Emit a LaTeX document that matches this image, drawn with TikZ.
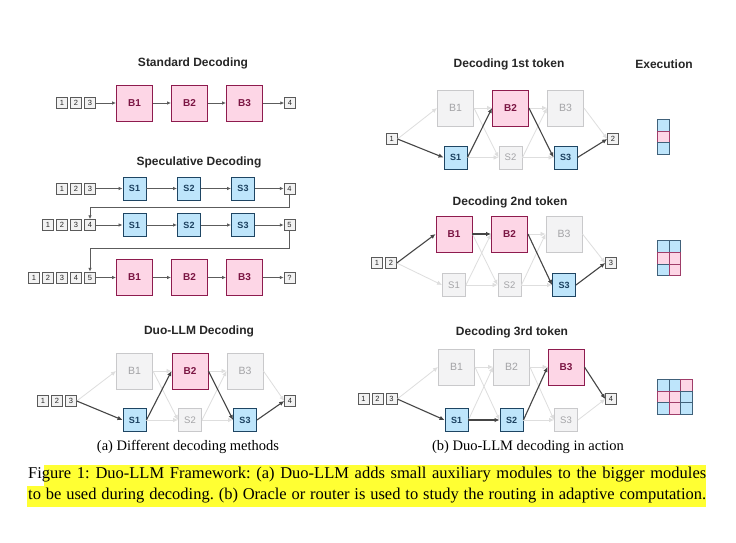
\documentclass[tikz,border=0pt]{standalone}
\usepackage{fontspec}
\setmainfont{Liberation Serif}
\newfontfamily\dsans{Liberation Sans}
\usetikzlibrary{arrows.meta,calc}
\definecolor{pinkF}{HTML}{FDD6E6}
\definecolor{pinkD}{HTML}{8E1B4E}
\definecolor{pinkT}{HTML}{7A1442}
\definecolor{blueF}{HTML}{BEE5FB}
\definecolor{blueD}{HTML}{1E4563}
\definecolor{blueT}{HTML}{1A3F5E}
\definecolor{greyF}{HTML}{F3F3F4}
\definecolor{greyD}{HTML}{C9C9CB}
\definecolor{greyT}{HTML}{A3A3A6}
\definecolor{tokF}{HTML}{F2F2F2}
\definecolor{tokD}{HTML}{5A5A5A}
\definecolor{darkA}{HTML}{454545}
\definecolor{lightA}{HTML}{DEDEDE}
\definecolor{midA}{HTML}{5C5C5C}
\definecolor{hlY}{HTML}{FFFF33}
\tikzset{
  bigbox/.style={draw=pinkD, fill=pinkF, line width=0.9pt, minimum width=36pt, minimum height=36pt, inner sep=0pt, text=pinkT, font=\dsans\bfseries\fontsize{10}{10}\selectfont},
  smallbox/.style={draw=blueD, fill=blueF, line width=0.9pt, minimum width=23pt, minimum height=23pt, inner sep=0pt, text=blueT, font=\dsans\bfseries\fontsize{9}{9}\selectfont},
  gbig/.style={bigbox, draw=greyD, fill=greyF, text=greyT, font=\dsans\fontsize{10.5}{10.5}\selectfont},
  gsmall/.style={smallbox, draw=greyD, fill=greyF, text=greyT, font=\dsans\fontsize{9.5}{9.5}\selectfont},
  tok/.style={draw=tokD, fill=tokF, line width=0.5pt, minimum width=11pt, minimum height=11pt, inner sep=0pt, text=black!85, font=\dsans\fontsize{7.5}{7.5}\selectfont},
  ttl/.style={font=\dsans\bfseries\fontsize{12}{12}\selectfont, text=black!85, inner sep=0pt},
  arr/.style={draw=midA, line width=0.8pt, -{Latex[length=4pt,width=3.5pt]}},
  dk/.style={draw=darkA, line width=1.1pt, -{Latex[length=5pt,width=4.5pt]}},
  lt/.style={draw=lightA, line width=0.8pt, -{Latex[length=5pt,width=4.5pt]}},
  cb/.style={fill=blueF, draw=blueD!85, line width=0.7pt},
  cp/.style={fill=pinkF, draw=pinkD!85, line width=0.7pt},
  subcap/.style={font=\fontsize{14.5}{16}\selectfont, inner sep=0pt},
  capline/.style={font=\frenchspacing\fontsize{16.5}{18}\selectfont, inner sep=0pt, anchor=west},
}
\newcommand\gcell[3]{\draw[#3] (#1,#2) rectangle ++(11.7,11.7);}
\begin{document}
\begin{tikzpicture}[x=1pt,y=-1pt]
\useasboundingbox (0,0) rectangle (736,543);
\fill[white] (0,0) rectangle (736,543);

% ---------- Standard decoding ----------
\node[ttl] (tstd) at (193,63) {Standard Decoding};
\node[tok] (st1) at (62,103) {1};
\node[tok] (st2) at (76,103) {2};
\node[tok] (st3) at (90,103) {3};
\node[bigbox] (stB1) at (134.5,103) {B1};
\node[bigbox] (stB2) at (189.5,103) {B2};
\node[bigbox] (stB3) at (244.5,103) {B3};
\node[tok] (sto) at (290,103) {4};
\draw[arr] (st3) -- (stB1);
\draw[arr] (stB1) -- (stB2);
\draw[arr] (stB2) -- (stB3);
\draw[arr] (stB3) -- (sto);

% ---------- Speculative decoding ----------
\node[ttl] (tspec) at (199,162) {Speculative Decoding};
\node[tok] (sa1) at (62,188.5) {1};
\node[tok] (sa2) at (76,188.5) {2};
\node[tok] (sa3) at (90,188.5) {3};
\node[smallbox] (saS1) at (134.5,188.5) {S1};
\node[smallbox] (saS2) at (189,188.5) {S2};
\node[smallbox] (saS3) at (243,188.5) {S3};
\node[tok] (sao) at (289.5,188.5) {4};
\draw[arr] (sa3) -- (saS1);
\draw[arr] (saS1) -- (saS2);
\draw[arr] (saS2) -- (saS3);
\draw[arr] (saS3) -- (sao);

\node[tok] (sb1) at (48,225) {1};
\node[tok] (sb2) at (62,225) {2};
\node[tok] (sb3) at (76,225) {3};
\node[tok] (sb4) at (90,225) {4};
\node[smallbox] (sbS1) at (134.5,225) {S1};
\node[smallbox] (sbS2) at (189,225) {S2};
\node[smallbox] (sbS3) at (243,225) {S3};
\node[tok] (sbo) at (289.5,225) {5};
\draw[arr] (sb4) -- (sbS1);
\draw[arr] (sbS1) -- (sbS2);
\draw[arr] (sbS2) -- (sbS3);
\draw[arr] (sbS3) -- (sbo);

\node[tok] (sc1) at (34,277.5) {1};
\node[tok] (sc2) at (48,277.5) {2};
\node[tok] (sc3) at (62,277.5) {3};
\node[tok] (sc4) at (76,277.5) {4};
\node[tok] (sc5) at (90,277.5) {5};
\node[bigbox] (scB1) at (134.5,277.5) {B1};
\node[bigbox] (scB2) at (189.5,277.5) {B2};
\node[bigbox] (scB3) at (244.5,277.5) {B3};
\node[tok] (sco) at (289.5,277.5) {?};
\draw[arr] (sc5) -- (scB1);
\draw[arr] (scB1) -- (scB2);
\draw[arr] (scB2) -- (scB3);
\draw[arr] (scB3) -- (sco);

\coordinate (e1) at (0,207);
\coordinate (e2) at (0,248.5);
\draw[arr] (sao.south) -- (sao.south |- e1) -| (sb4.north);
\draw[arr] (sbo.south) -- (sbo.south |- e2) -| (sc5.north);

% ---------- Duo-LLM decoding ----------
\node[ttl] (tduo) at (199,331) {Duo-LLM Decoding};
\node[tok] (d1) at (43,401) {1};
\node[tok] (d2) at (57,401) {2};
\node[tok] (d3) at (71,401) {3};
\node[gbig] (dB1) at (134.5,371) {B1};
\node[bigbox] (dB2) at (190,371) {B2};
\node[gbig] (dB3) at (245,371) {B3};
\node[smallbox] (dS1) at (134.5,420) {S1};
\node[gsmall] (dS2) at (190,420) {S2};
\node[smallbox] (dS3) at (245,420) {S3};
\node[tok] (do) at (290,401) {4};
\draw[lt] (d3.east) -- (dB1.west);
\draw[lt] (dB1.east) -- (dB2.west);
\draw[lt] (dB1.east) -- (dS2.west);
\draw[lt] (dS1.east) -- (dS2.west);
\draw[lt] (dB2.east) -- (dB3.west);
\draw[lt] (dS2.east) -- (dB3.west);
\draw[lt] (dS2.east) -- (dS3.west);
\draw[lt] (dB3.east) -- (do.west);
\draw[dk] (d3.east) -- (dS1.west);
\draw[dk] (dS1.east) -- (dB2.west);
\draw[dk] (dB2.east) -- (dS3.west);
\draw[dk] (dS3.east) -- (do.west);

\node[subcap] (capa) at (188,447) {(a) Different decoding methods};

% ---------- Panel: 1st token ----------
\node[ttl] (tp) at (509,64) {Decoding 1st token};
\node[ttl] (texe) at (664,64) {Execution};
\node[tok] (p1) at (391.7,139) {1};
\node[gbig] (pB1) at (455.5,108) {B1};
\node[bigbox] (pB2) at (510.5,108) {B2};
\node[gbig] (pB3) at (565.5,108) {B3};
\node[smallbox] (pS1) at (455.5,157.5) {S1};
\node[gsmall] (pS2) at (510.5,157.5) {S2};
\node[smallbox] (pS3) at (565.5,157.5) {S3};
\node[tok] (po) at (613,139) {2};
\draw[lt] (p1.east) -- (pB1.west);
\draw[lt] (pB1.east) -- (pB2.west);
\draw[lt] (pB1.east) -- (pS2.west);
\draw[lt] (pS1.east) -- (pS2.west);
\draw[lt] (pB2.east) -- (pB3.west);
\draw[lt] (pS2.east) -- (pB3.west);
\draw[lt] (pS2.east) -- (pS3.west);
\draw[lt] (pB3.east) -- (po.west);
\draw[dk] (p1.east) -- (pS1.west);
\draw[dk] (pS1.east) -- (pB2.west);
\draw[dk] (pB2.east) -- (pS3.west);
\draw[dk] (pS3.east) -- (po.west);

% ---------- Panel: 2nd token ----------
\node[ttl] (tq) at (510,202) {Decoding 2nd token};
\node[tok] (q1) at (377,263) {1};
\node[tok] (q2) at (391,263) {2};
\node[bigbox] (qB1) at (454,234) {B1};
\node[bigbox] (qB2) at (509.5,234) {B2};
\node[gbig] (qB3) at (564,234) {B3};
\node[gsmall] (qS1) at (454,285) {S1};
\node[gsmall] (qS2) at (509.5,285) {S2};
\node[smallbox] (qS3) at (564,285) {S3};
\node[tok] (qo) at (611,263) {3};
\draw[lt] (q2.east) -- (qS1.west);
\draw[lt] (qB1.east) -- (qS2.west);
\draw[lt] (qS1.east) -- (qB2.west);
\draw[lt] (qS1.east) -- (qS2.west);
\draw[lt] (qB2.east) -- (qB3.west);
\draw[lt] (qS2.east) -- (qB3.west);
\draw[lt] (qS2.east) -- (qS3.west);
\draw[lt] (qB3.east) -- (qo.west);
\draw[dk] (q2.east) -- (qB1.west);
\draw[dk] (qB1.east) -- (qB2.west);
\draw[dk] (qB2.east) -- (qS3.west);
\draw[dk] (qS3.east) -- (qo.west);

% ---------- Panel: 3rd token ----------
\node[ttl] (tr) at (512,332) {Decoding 3rd token};
\node[tok] (r1) at (363.5,399) {1};
\node[tok] (r2) at (377.5,399) {2};
\node[tok] (r3) at (391.5,399) {3};
\node[gbig] (rB1) at (456.5,367) {B1};
\node[gbig] (rB2) at (511.5,367) {B2};
\node[bigbox] (rB3) at (566,367) {B3};
\node[smallbox] (rS1) at (456.5,420) {S1};
\node[smallbox] (rS2) at (511.5,420) {S2};
\node[gsmall] (rS3) at (566,420) {S3};
\node[tok] (ro) at (611,399) {4};
\draw[lt] (r3.east) -- (rB1.west);
\draw[lt] (rB1.east) -- (rB2.west);
\draw[lt] (rB1.east) -- (rS2.west);
\draw[lt] (rS1.east) -- (rB2.west);
\draw[lt] (rB2.east) -- (rB3.west);
\draw[lt] (rB2.east) -- (rS3.west);
\draw[lt] (rS2.east) -- (rS3.west);
\draw[lt] (rS3.east) -- (ro.west);
\draw[dk] (r3.east) -- (rS1.west);
\draw[dk] (rS1.east) -- (rS2.west);
\draw[dk] (rS2.east) -- (rB3.west);
\draw[dk] (rB3.east) -- (ro.west);

\node[subcap] (capb) at (528,447) {(b) Duo-LLM decoding in action};

% ---------- Execution grids ----------
\gcell{657.3}{119.3}{cb}
\gcell{657.3}{131.0}{cp}
\gcell{657.3}{142.7}{cb}

\gcell{657.3}{240.7}{cb}
\gcell{657.3}{252.4}{cp}
\gcell{657.3}{264.1}{cb}
\gcell{669.0}{240.7}{cb}
\gcell{669.0}{252.4}{cp}
\gcell{669.0}{264.1}{cp}

\gcell{657.3}{379.3}{cb}
\gcell{657.3}{391.0}{cp}
\gcell{657.3}{402.7}{cb}
\gcell{669.0}{379.3}{cb}
\gcell{669.0}{391.0}{cp}
\gcell{669.0}{402.7}{cp}
\gcell{680.7}{379.3}{cp}
\gcell{680.7}{391.0}{cb}
\gcell{680.7}{402.7}{cb}

% ---------- Caption ----------
\fill[hlY] (44,465) rectangle (706,485.5);
\fill[hlY] (27,486) rectangle (706,506.5);
\node[capline] (cap1) at (28,475) {\hbox to 678pt{Figure 1: Duo-LLM Framework: (a) Duo-LLM adds small auxiliary modules to the bigger modules}};
\node[capline] (cap2) at (28,496) {\hbox to 678pt{to be used during decoding. (b) Oracle or router is used to study the routing in adaptive computation.}};
\end{tikzpicture}
\end{document}
